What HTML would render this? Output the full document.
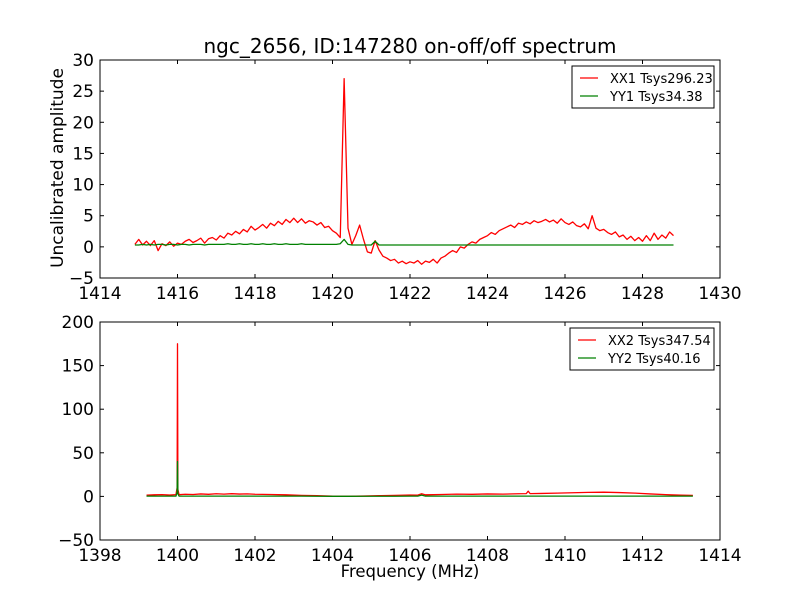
<!DOCTYPE html>
<html><head><meta charset="utf-8"><style>
body{margin:0;background:#fff;}
svg text{font-family:"DejaVu Sans","Liberation Sans",sans-serif;}
</style></head><body>
<svg id="fig" width="800" height="600" xmlns="http://www.w3.org/2000/svg">
<rect width="800" height="600" fill="#fff"/>
<text x="410" y="53" font-size="20" text-anchor="middle">ngc_2656, ID:147280 on-off/off spectrum</text>
<text transform="translate(63,168) rotate(-90)" font-size="17" text-anchor="middle">Uncalibrated amplitude</text>
<text x="410" y="577" font-size="16.5" text-anchor="middle">Frequency (MHz)</text>
<g id="top"></g>
<g id="bot"></g>
</svg>
<script>
// Top panel data (frequency grid start 1414.9 MHz, step 0.1 MHz)
const topStart = 1414.9, topStep = 0.1;
const topXX = [0.4,1.2,0.3,0.9,0.2,1.0,-0.6,0.5,0.2,0.8,0.1,0.6,
0.4,0.9,1.2,0.7,1.0,1.4,0.6,1.3,1.5,1.1,
1.8,1.4,2.2,1.9,2.5,2.1,2.8,2.4,3.3,2.7,
3.1,3.6,3.0,3.8,3.4,4.1,3.6,4.4,3.9,4.6,
3.9,4.5,3.8,4.2,4.0,3.5,3.9,3.1,3.3,2.6,
2.2,1.5,27.0,3.0,0.4,1.8,3.5,1.2,-0.8,-1.0,
1.0,-0.5,-1.5,-1.8,-2.2,-2.0,-2.6,-2.3,-2.7,-2.4,
-2.6,-2.2,-2.8,-2.3,-2.5,-2.0,-2.6,-1.8,-1.5,-1.0,
-0.6,-0.9,0.0,-0.2,0.4,0.8,0.6,1.2,1.5,1.8,
2.3,2.0,2.6,2.9,3.2,3.5,3.1,3.8,3.6,4.0,
3.7,4.2,3.9,4.1,4.4,4.0,4.3,3.8,4.5,3.9,
3.6,4.0,3.4,3.2,3.7,2.9,5.0,3.0,2.6,2.8,
2.3,2.0,2.4,1.6,1.9,1.2,1.7,1.0,1.5,0.9,
1.8,1.0,2.2,1.2,1.9,1.4,2.4,1.8];
const topYY = [0.3,0.3,0.4,0.3,0.4,0.3,0.4,0.4,0.3,0.4,0.4,0.3,
0.4,0.4,0.3,0.4,0.4,0.4,0.3,0.4,0.4,0.4,
0.4,0.4,0.5,0.4,0.4,0.5,0.4,0.4,0.5,0.4,
0.4,0.5,0.4,0.4,0.5,0.4,0.4,0.5,0.4,0.4,
0.4,0.5,0.4,0.4,0.4,0.4,0.4,0.4,0.4,0.4,
0.4,0.5,1.2,0.4,0.3,0.3,0.3,0.3,0.3,0.3,
0.9,0.3,0.3,0.3,0.3,0.3,0.3,0.3,0.3,0.3,
0.3,0.3,0.3,0.3,0.3,0.3,0.3,0.3,0.3,0.3,
0.3,0.3,0.3,0.3,0.3,0.3,0.3,0.3,0.3,0.3,
0.3,0.3,0.3,0.3,0.3,0.3,0.3,0.3,0.3,0.3,
0.3,0.3,0.3,0.3,0.3,0.3,0.3,0.3,0.3,0.3,
0.3,0.3,0.3,0.3,0.3,0.3,0.3,0.3,0.3,0.3,
0.3,0.3,0.3,0.3,0.3,0.3,0.3,0.3,0.3,0.3,
0.3,0.3,0.3,0.3,0.3,0.3,0.3,0.3];
const topXTicks = [1414,1416,1418,1420,1422,1424,1426,1428,1430];
const topYTicks = [-5,0,5,10,15,20,25,30];
const topLegend = ["XX1 Tsys296.23","YY1 Tsys34.38"];

// Bottom panel data
const botFreq = [1399.2,1399.4,1399.6,1399.8,1399.96,1399.99,1400.0,1400.01,1400.04,1400.2,1400.4,1400.6,1400.8,1401.0,1401.2,1401.4,1401.6,1401.8,1402.0,1402.4,1402.8,1403.2,1403.6,1404.0,1404.4,1404.8,1405.2,1405.6,1406.0,1406.2,1406.3,1406.4,1406.8,1407.2,1407.6,1408.0,1408.4,1408.8,1409.0,1409.05,1409.1,1409.4,1409.8,1410.2,1410.6,1411.0,1411.4,1411.8,1412.2,1412.6,1413.0,1413.3];
const botXX = [1.5,1.8,2.0,1.6,2.0,10,175,8,2.0,2.5,2.2,2.8,2.4,3.0,2.6,3.1,2.7,2.9,2.5,2.2,1.8,1.2,0.8,0.3,0.2,0.4,0.8,1.2,1.6,1.5,3.0,1.8,2.2,2.6,2.4,2.8,2.6,3.0,3.2,6.0,3.2,3.4,3.8,4.2,4.6,4.8,4.4,3.8,2.8,2.0,1.4,1.2];
const botYY = [0.3,0.3,0.3,0.3,0.3,5,40,3,0.3,0.3,0.3,0.3,0.3,0.3,0.3,0.3,0.3,0.3,0.3,0.3,0.3,0.3,0.2,0.1,0.1,0.2,0.2,0.2,0.3,0.3,1.5,0.3,0.3,0.3,0.3,0.3,0.3,0.3,0.3,0.3,0.3,0.3,0.3,0.3,0.3,0.3,0.3,0.3,0.3,0.3,0.3,0.3];
const botXTicks = [1398,1400,1402,1404,1406,1408,1410,1412,1414];
const botYTicks = [-50,0,50,100,150,200];
const botLegend = ["XX2 Tsys347.54","YY2 Tsys40.16"];

const NS="http://www.w3.org/2000/svg";
function mk(tag,attrs,parent){const e=document.createElementNS(NS,tag);for(const k in attrs)e.setAttribute(k,attrs[k]);parent.appendChild(e);return e;}

function panel(g,top,bot,xmin,xmax,ymin,ymax,xs,series,colors,xt,yt,legend,lg){
  const L=100,R=720;
  const sx=v=>L+(v-xmin)/(xmax-xmin)*(R-L);
  const sy=v=>bot-(v-ymin)/(ymax-ymin)*(bot-top);
  series.forEach((s,i)=>{
    const d=s.map((v,j)=>(j?"L":"M")+sx(xs[j]).toFixed(2)+","+sy(v).toFixed(2)).join("");
    const p=mk("path",{d:d,fill:"none",stroke:colors[i],"stroke-width":1.3,"stroke-linejoin":"round"},g);
    
    
  });
  const fr=mk("rect",{x:L,y:top,width:R-L,height:bot-top,fill:"none",stroke:"#000","stroke-width":1},g);
  
  
  xt.forEach(v=>{
    const x=sx(v);
    mk("line",{x1:x,x2:x,y1:bot,y2:bot-4,stroke:"#000"},g);
    mk("line",{x1:x,x2:x,y1:top,y2:top+4,stroke:"#000"},g);
    const t=mk("text",{x:x,y:bot+21,"font-size":17,"text-anchor":"middle"},g);
    t.textContent=v;
    
    
  });
  yt.forEach(v=>{
    const y=sy(v);
    mk("line",{x1:L,x2:L+4,y1:y,y2:y,stroke:"#000"},g);
    mk("line",{x1:R,x2:R-4,y1:y,y2:y,stroke:"#000"},g);
    const t=mk("text",{x:L-6,y:y+6,"font-size":17,"text-anchor":"end"},g);
    t.textContent=(v<0?"\u2212"+(-v):v);
    
    
  });
  const lb=mk("rect",{x:lg.x,y:lg.y,width:lg.w,height:42,fill:"#fff",stroke:"#000","stroke-width":1},g);
  
  
  legend.forEach((s,i)=>{
    const y=lg.y+12+i*18;
    const ln=mk("line",{x1:lg.x+8,x2:lg.x+26,y1:y,y2:y,stroke:colors[i],"stroke-width":1.2},g);
    
    
    const t=mk("text",{x:lg.x+38,y:y+5,"font-size":13},g);
    t.textContent=s;
    
    
  });
}
const topX=topXX.map((v,i)=>topStart+i*topStep);
panel(document.getElementById("top"),60,278,1414,1430,-5,30,topX,[topXX,topYY],["#ff0000","#008000"],topXTicks,topYTicks,topLegend,{x:572,y:66,w:142});
panel(document.getElementById("bot"),322,540,1398,1414,-50,200,botFreq,[botXX,botYY],["#ff0000","#008000"],botXTicks,botYTicks,botLegend,{x:570,y:328,w:144});
</script>
</body></html>
